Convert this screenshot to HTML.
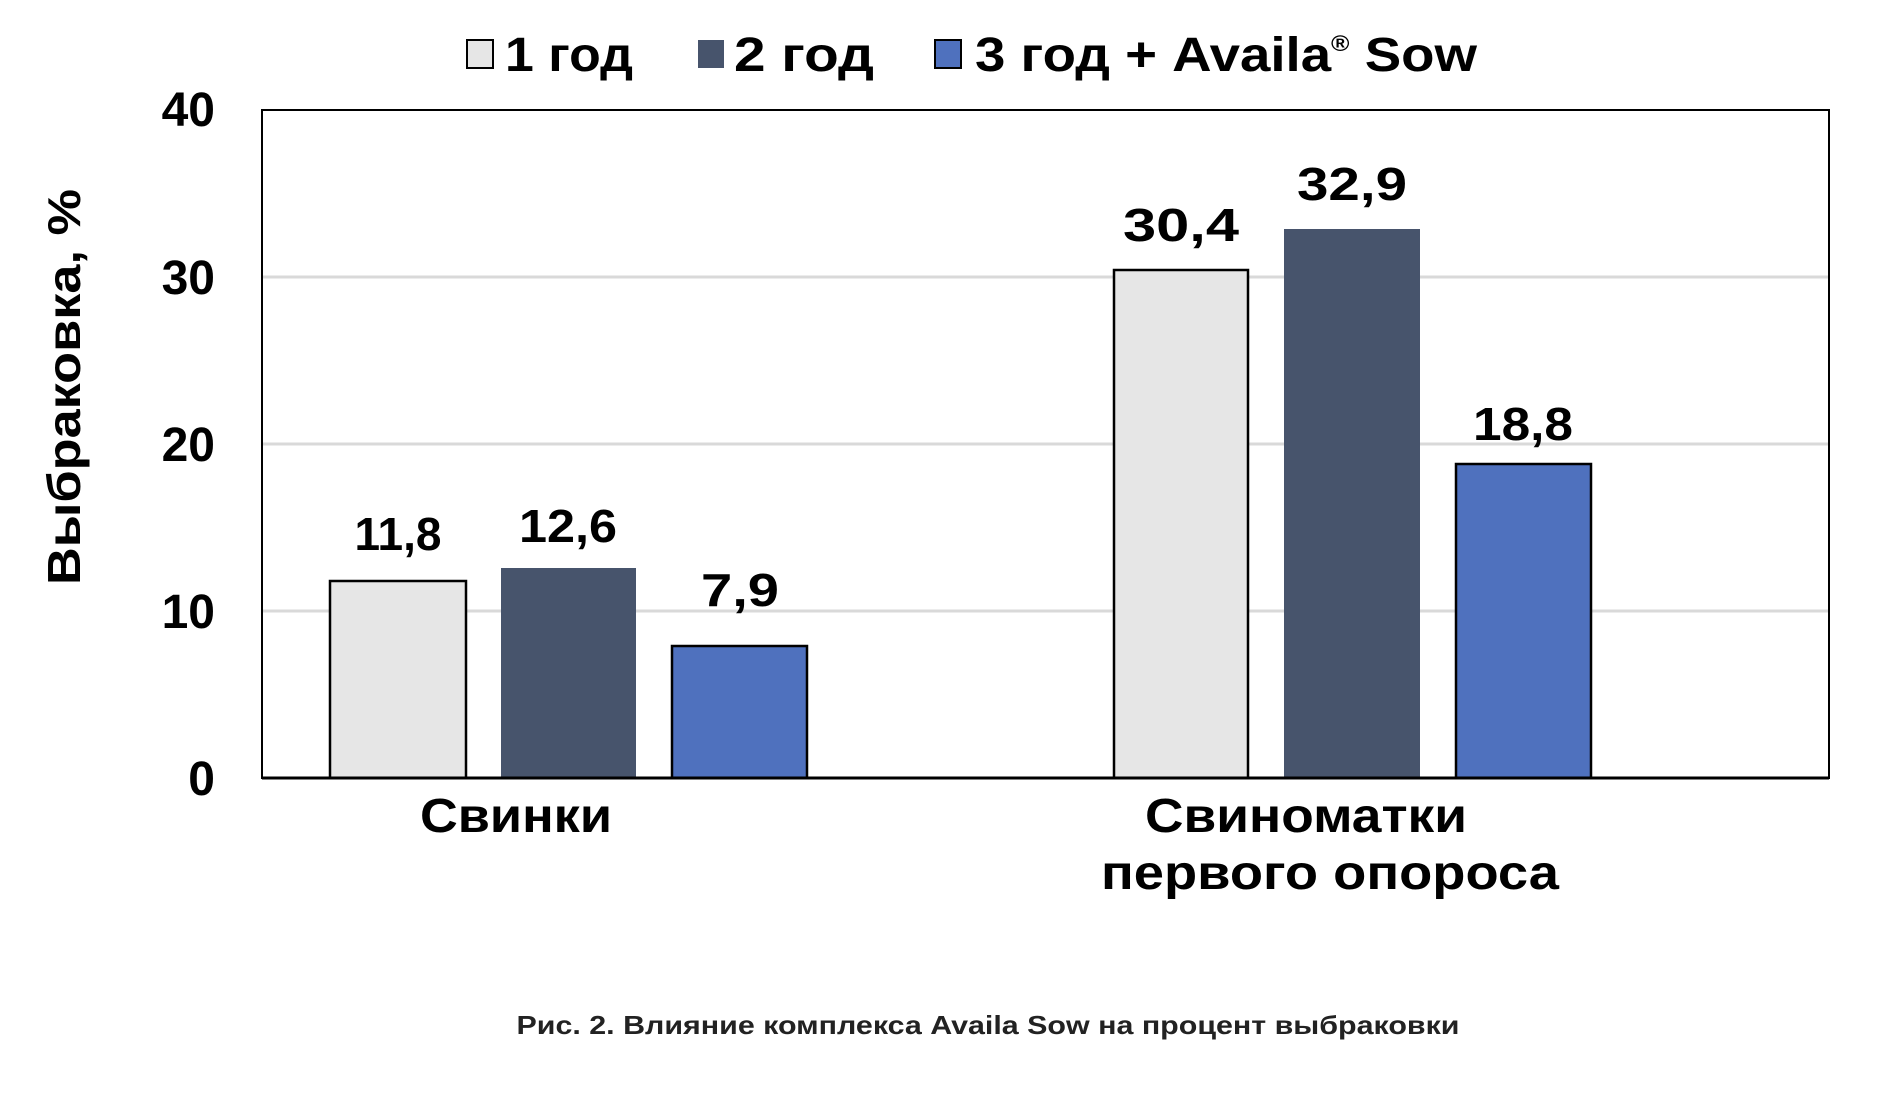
<!DOCTYPE html>
<html><head><meta charset="utf-8"><style>html,body{margin:0;padding:0;background:#fff}svg{display:block}</style></head>
<body>
<svg width="1896" height="1094" viewBox="0 0 1896 1094" xmlns="http://www.w3.org/2000/svg" font-family="Liberation Sans, sans-serif" font-weight="bold">
<rect width="1896" height="1094" fill="#fff"/>
<g stroke="#d9d9d9" stroke-width="3">
<line x1="262" y1="277" x2="1829" y2="277"/>
<line x1="262" y1="444" x2="1829" y2="444"/>
<line x1="262" y1="611" x2="1829" y2="611"/>
</g>
<g stroke="#000" stroke-width="2.5">
<rect x="330" y="581" width="136" height="197" fill="#e6e6e6"/>
<rect x="672" y="646" width="135" height="132" fill="#4f71be"/>
<rect x="1114" y="270" width="134" height="508" fill="#e6e6e6"/>
<rect x="1456" y="464" width="135" height="314" fill="#4f71be"/>
</g>
<rect x="501" y="568" width="135" height="210" fill="#47546c"/>
<rect x="1284" y="229" width="136" height="549" fill="#47546c"/>
<rect x="262" y="110" width="1567" height="668" fill="none" stroke="#000" stroke-width="2"/>
<line x1="262" y1="778" x2="1829" y2="778" stroke="#000" stroke-width="3"/>
<g font-size="48" text-anchor="end" fill="#000">
<text x="215" y="126">40</text>
<text x="215" y="294">30</text>
<text x="215" y="461">20</text>
<text x="215" y="628">10</text>
<text x="215" y="795">0</text>
</g>
<text transform="translate(80,387) rotate(-90)" font-size="46" text-anchor="middle" textLength="396" lengthAdjust="spacingAndGlyphs">Выбраковка, %</text>
<g font-size="46" text-anchor="middle">
<text x="398" y="550" textLength="87" lengthAdjust="spacingAndGlyphs">11,8</text>
<text x="568" y="542" textLength="98" lengthAdjust="spacingAndGlyphs">12,6</text>
<text x="740" y="606" textLength="78" lengthAdjust="spacingAndGlyphs">7,9</text>
<text x="1181" y="241" textLength="116" lengthAdjust="spacingAndGlyphs">30,4</text>
<text x="1352" y="200" textLength="110" lengthAdjust="spacingAndGlyphs">32,9</text>
<text x="1523" y="440" textLength="100" lengthAdjust="spacingAndGlyphs">18,8</text>
</g>
<g font-size="48" text-anchor="middle">
<text x="516" y="832" textLength="192" lengthAdjust="spacingAndGlyphs">Свинки</text>
<text x="1306" y="832" textLength="322" lengthAdjust="spacingAndGlyphs">Свиноматки</text>
<text x="1330" y="889" textLength="458" lengthAdjust="spacingAndGlyphs">первого опороса</text>
</g>
<rect x="467" y="40" width="26" height="28" fill="#e6e6e6" stroke="#000" stroke-width="2"/>
<rect x="698" y="40" width="26" height="28" fill="#47546c"/>
<rect x="935" y="40" width="26" height="28" fill="#4f71be" stroke="#000" stroke-width="2"/>
<g font-size="48">
<text x="505" y="71" textLength="128" lengthAdjust="spacingAndGlyphs">1 год</text>
<text x="734" y="71" textLength="140" lengthAdjust="spacingAndGlyphs">2 год</text>
<text x="975" y="71" textLength="502" lengthAdjust="spacingAndGlyphs">3 год + Availa<tspan font-size="22" dy="-20">®</tspan><tspan dy="20"> Sow</tspan></text>
</g>
<text x="988" y="1034" font-size="26" text-anchor="middle" textLength="943" lengthAdjust="spacingAndGlyphs" fill="#222">Рис. 2. Влияние комплекса Availa Sow на процент выбраковки</text>
</svg>
</body></html>
